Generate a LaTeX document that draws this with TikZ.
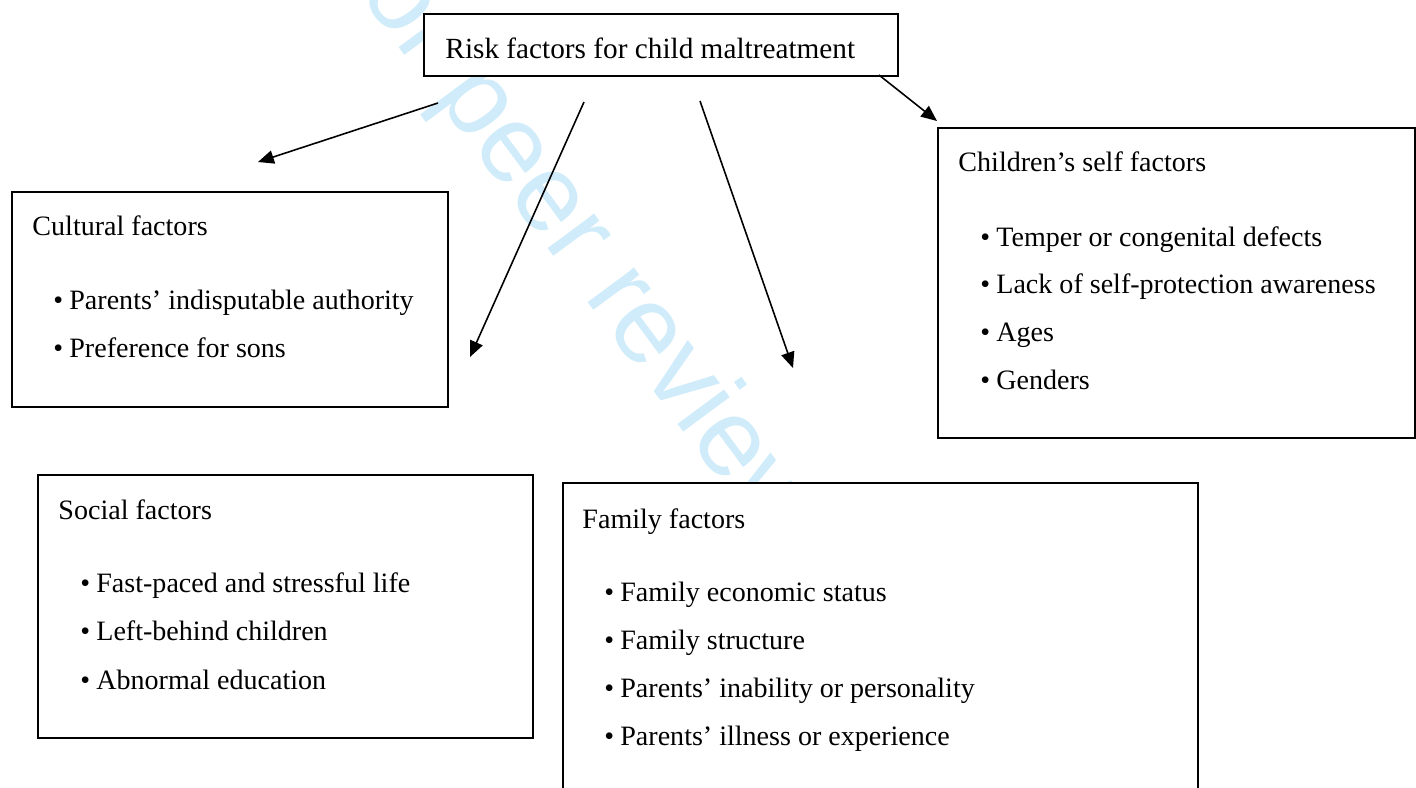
\documentclass[tikz,border=0pt]{standalone}
\usepackage{fontspec}
\setmainfont{Liberation Serif}
\newfontfamily\wmfont{Liberation Sans}
\usetikzlibrary{arrows.meta,positioning}
\definecolor{wmblue}{RGB}{208,236,250}
\newcommand\pxlen{0.41pt}
\tikzset{
  box/.style={draw, line width=0.8pt, fill=white, inner sep=0pt, anchor=north west},
  head/.style={anchor=base west, inner sep=0pt, font=\fontsize{11.5}{14}\selectfont},
  item/.style={anchor=base west, inner sep=0pt, font=\fontsize{11.5}{14}\selectfont},
  arr/.style={-{Triangle[length=6.5pt,width=5.5pt]}, line width=0.65pt},
}

\begin{document}
\begin{tikzpicture}[x=0.41pt, y=-0.41pt, font=\fontsize{12}{14}\selectfont]
    \useasboundingbox (0,0) rectangle (1416,787);
    \clip (0,0) rectangle (1416,787);

    % watermark behind everything
    \node[anchor=base west, inner sep=0pt, rotate=-53.5, text=wmblue,
          font=\wmfont\fontsize{45}{45}\selectfont] (wm) at (318,-62) {For peer review only};

    % boxes
    \node[box, minimum width=474*\pxlen, minimum height=62*\pxlen] (top) at (423,13) {};
    \node[box, minimum width=436*\pxlen, minimum height=215*\pxlen] (cult) at (11,191) {};
    \node[box, minimum width=477*\pxlen, minimum height=310*\pxlen] (self) at (937,127) {};
    \node[box, minimum width=495*\pxlen, minimum height=263*\pxlen] (soc) at (37,474) {};
    \node[box, minimum width=635*\pxlen, minimum height=330*\pxlen] (fam) at (562,482) {};

    % texts
    \node[anchor=base west, inner sep=0pt] (toptxt) at (445,58) {Risk factors for child maltreatment};

    \node[head] (culthead) at (32,235) {Cultural factors};
    \foreach \t [count=\i from 0] in {Parents’ indisputable authority, Preference for sons}
      \node[item] (cult\i) at (53,{309+\i*48}) {\textbullet\hspace{2.5pt}\t};

    \node[head] (selfhead) at (958,171) {Children’s self factors};
    \foreach \t [count=\i from 0] in {Temper or congenital defects, Lack of self-protection awareness, Ages, Genders}
      \node[item] (self\i) at (980,{246+\i*47.7}) {\textbullet\hspace{2.5pt}\t};

    \node[head] (sochead) at (58,519) {Social factors};
    \foreach \t [count=\i from 0] in {Fast-paced and stressful life, Left-behind children, Abnormal education}
      \node[item] (soc\i) at (80,{592+\i*48.5}) {\textbullet\hspace{2.5pt}\t};

    \node[head] (famhead) at (582,528) {Family factors};
    \foreach \t [count=\i from 0] in {Family economic status, Family structure, Parents’ inability or personality, Parents’ illness or experience}
      \node[item] (fam\i) at (604,{601+\i*48}) {\textbullet\hspace{2.5pt}\t};

    % free ends of the arrows
    \coordinate (cultS) at (438,103);
    \coordinate (cultE) at (258,162);
    \coordinate (socS) at (584,102);
    \coordinate (socE) at (470,357);
    \coordinate (famS) at (700,101);
    \coordinate (famE) at (793,368);
    \coordinate (selfS) at (879,75);
    \coordinate (selfE) at (937,121);

    \draw[arr] (cultS) -- (cultE);
    \draw[arr] (socS) -- (socE);
    \draw[arr] (famS) -- (famE);
    \draw[arr] (selfS) -- (selfE);
\end{tikzpicture}
\end{document}
